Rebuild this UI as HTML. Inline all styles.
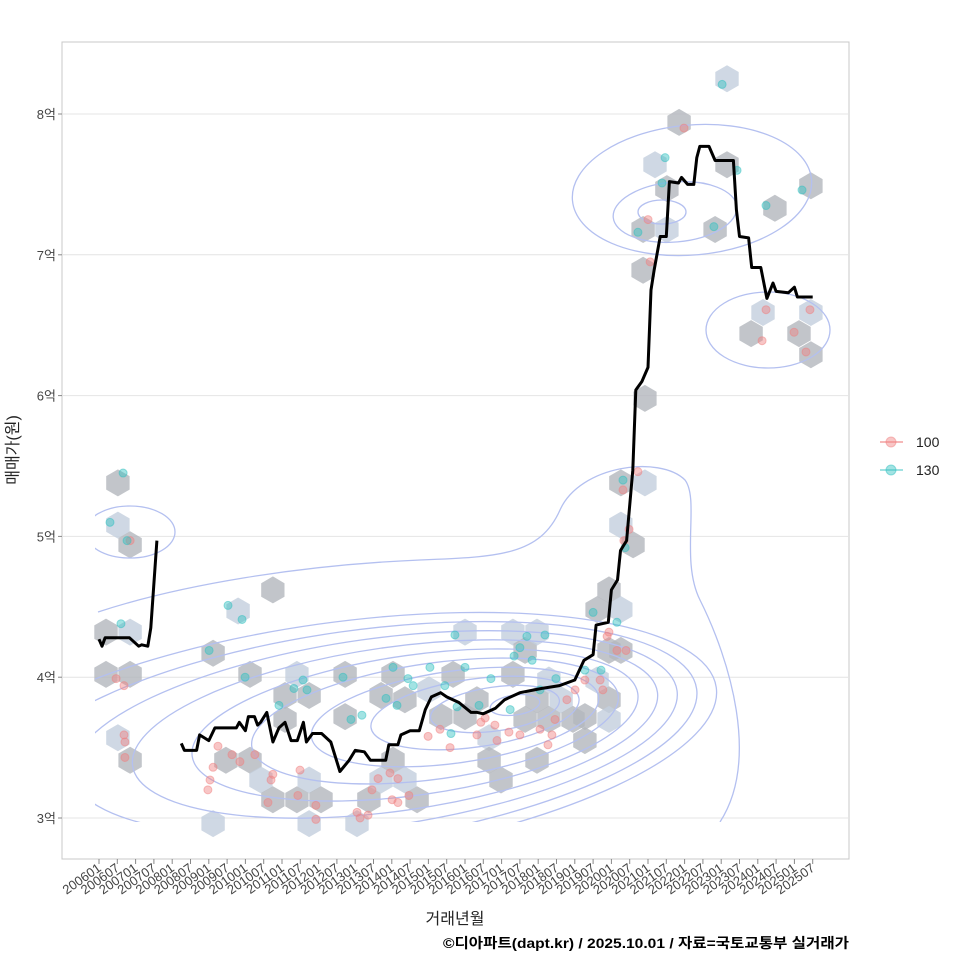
<!DOCTYPE html>
<html><head><meta charset="utf-8"><style>
body{margin:0;background:#fff;}
svg{display:block;font-family:"Liberation Sans","Noto Sans CJK KR",sans-serif;}
</style></head><body>
<svg id="chart" width="960" height="960" viewBox="0 0 960 960">
<rect x="0" y="0" width="960" height="960" fill="#fff"/>
<defs><clipPath id="clipc"><rect x="95" y="43" width="754" height="779"/></clipPath></defs>
<rect x="62" y="42" width="787" height="817" fill="none" stroke="#c8c8c8" stroke-width="1"/>
<g id="grid"></g>
<g id="hexes"></g>
<g id="contours" clip-path="url(#clipc)"></g>
<g id="points"></g>
<g id="line"></g>
<g id="yaxis"></g>
<g id="xaxis"></g>
<text x="18" y="450" transform="rotate(-90 18 450)" text-anchor="middle" font-size="16" fill="#222">매매가(원)</text>
<text x="455" y="924" text-anchor="middle" font-size="16" fill="#222">거래년월</text>
<text x="443" y="948" textLength="406" lengthAdjust="spacingAndGlyphs" font-size="14" font-weight="bold" fill="#000">©디아파트(dapt.kr) / 2025.10.01 / 자료=국토교통부 실거래가</text>
<g>
<g>
<line x1="880" y1="442" x2="903" y2="442" stroke="#f4a0a0" stroke-width="1.5"/>
<circle cx="891" cy="442" r="5" fill="#f08080" fill-opacity="0.45" stroke="#f08080" stroke-opacity="0.5"/>
<text x="916" y="447" font-size="14" fill="#222">100</text></g>
<g>
<line x1="880" y1="470" x2="903" y2="470" stroke="#80d8d8" stroke-width="1.5"/>
<circle cx="891" cy="470" r="5" fill="#30c0c0" fill-opacity="0.45" stroke="#30c0c0" stroke-opacity="0.5"/>
<text x="916" y="475" font-size="14" fill="#222">130</text></g>
</g>
</svg>
<script>
const yTicks=[3,4,5,6,7,8];
const yTickLabels=["3억","4억","5억","6억","7억","8억"];
const xTickLabels=[];
for(let y=2006;y<=2025;y++){xTickLabels.push(y+"01");xTickLabels.push(y+"07");}
const lineMonths=[0,1,2,10,13,14,16,17,19,null,27,28,32,33,36,38,41,45,46,48,49,51,52,53,55,57,59,61,63,65,67,68,70,73,76,79,82,84,87,89,94,95,98,99,102,105,107,109,112,114,118,122,124,126,130,133,138,145,151,156,159,162,163,167,168,170,171,173,175,176,178,180,181,182,184,186,187,190,191,193,195,196,197,200,202,208,209,210,213,214,217,219,221,222,226,228,229,234];
const linePrices=[4.27,4.22,4.28,4.28,4.22,4.23,4.22,4.35,4.97,null,3.53,3.48,3.48,3.59,3.55,3.64,3.64,3.64,3.68,3.62,3.72,3.72,3.66,3.68,3.75,3.54,3.64,3.68,3.55,3.55,3.68,3.54,3.60,3.60,3.54,3.33,3.41,3.48,3.47,3.41,3.41,3.52,3.52,3.59,3.62,3.62,3.77,3.86,3.89,3.86,3.82,3.75,3.75,3.74,3.78,3.84,3.89,3.92,3.94,3.98,4.12,4.16,4.37,4.39,4.62,4.69,4.9,4.97,5.47,6.04,6.1,6.2,6.75,6.89,7.13,7.13,7.52,7.51,7.55,7.5,7.5,7.69,7.77,7.77,7.67,7.67,7.32,7.13,7.12,6.91,6.91,6.69,6.8,6.74,6.73,6.77,6.7,6.7];
const hexMonths=[6.2,6.2,10.2,2.3,10.2,2.3,10.2,6.2,10.2,37.4,45.6,49.5,57,37.4,41.6,49.5,53.1,57,61,64.9,61,68.9,68.9,64.9,72.8,68.9,80.7,80.7,84.6,88.5,92.5,92.5,96.4,96.4,100.3,104.3,100.3,108.2,112.1,116.1,120,120,123.9,127.9,127.9,131.8,135.7,135.7,139.7,143.6,143.6,139.7,147.5,147.5,143.6,151.5,155.4,159.3,163.3,167.2,159.3,167.2,167.2,163.3,171.1,167.2,171.1,171.1,175.1,171.1,179,179,178.4,182.3,186.2,190.2,186.2,178.4,202,205.9,205.9,221.6,217.7,213.8,229.5,233.4,233.4,233.4];
const hexPrices=[5.38,5.08,4.94,4.32,4.32,4.02,4.02,3.57,3.41,4.17,4.47,4.02,4.62,2.96,3.41,3.41,3.27,3.13,3.87,4.02,3.70,3.87,3.27,3.13,3.13,2.96,4.02,3.72,2.96,3.13,3.87,3.27,4.02,3.41,3.27,3.13,3.84,3.91,3.72,4.02,4.32,3.72,3.84,3.57,3.41,3.27,4.32,4.02,4.19,4.32,3.84,3.70,3.98,3.70,3.41,3.84,3.70,3.72,3.98,3.84,3.55,3.70,4.62,4.48,4.48,4.19,4.19,5.08,4.94,5.38,5.38,5.98,6.89,7.64,7.47,7.94,7.18,7.18,7.18,8.25,7.64,7.33,6.59,6.44,6.44,6.59,6.29,7.49];
const pinkMonths=[5.6,8.2,8.2,8.5,8.5,10.2,36.4,37.4,35.7,39,43.6,46.2,51.1,56.4,57,55.4,65.9,65.2,71.1,71.1,84.6,85.6,88.2,89.5,91.5,95.4,98,96.1,98,101.6,107.9,111.8,115.1,126.6,125.2,123.9,130.5,129.8,134.4,138,144.6,148.5,147.2,149.5,153.4,156.1,159.3,164.3,165.2,166.6,167.2,169.8,172.8,171.8,173.8,172.1,176.7,180.7,180,191.8,218.7,217.4,227.9,231.8,233.1];
const pinkPrices=[3.99,3.94,3.59,3.54,3.43,4.97,3.27,3.36,3.20,3.51,3.45,3.40,3.45,3.27,3.31,3.11,3.34,3.16,3.09,2.99,3.04,3.0,3.02,3.20,3.28,3.32,3.28,3.13,3.11,3.16,3.58,3.63,3.50,3.71,3.68,3.59,3.55,3.66,3.61,3.59,3.63,3.59,3.52,3.70,3.84,3.91,3.98,3.98,3.91,4.29,4.32,4.19,4.19,5.33,5.05,4.97,5.46,6.95,7.25,7.90,6.61,6.39,6.45,6.31,6.61];
const cyanMonths=[3.6,7.9,9.2,7.2,42.3,46.9,36.1,47.9,59,63.9,66.9,68.2,80,82.6,86.2,94.1,96.4,97.7,101.3,103,108.5,113.4,115.4,117.4,120,116.7,124.6,128.5,134.8,136.1,138,140.3,142,144.6,146.2,149.8,159.3,164.6,162,169.8,171.8,172.5,176.7,185.6,184.6,201.6,204.3,209.2,218.7,230.5];
const cyanPrices=[5.10,5.45,4.97,4.38,4.51,4.41,4.19,4.0,3.80,3.92,3.98,3.91,4.0,3.70,3.73,3.85,4.07,3.80,3.99,3.94,4.07,3.94,3.60,3.79,4.07,4.30,3.80,3.99,3.77,4.15,4.21,4.29,4.12,3.91,4.30,3.99,4.05,4.05,4.46,4.39,5.40,4.92,7.16,7.69,7.51,7.20,8.21,7.60,7.35,7.46];

const NS="http://www.w3.org/2000/svg";
function X(m){return 99+m*3.05;}
function Y(v){return 818-(v-3)*140.8;}
function mk(tag,attrs,parent){const e=document.createElementNS(NS,tag);for(const k in attrs)e.setAttribute(k,attrs[k]);parent.appendChild(e);return e;}
const grid=document.getElementById('grid'),yax=document.getElementById('yaxis'),xax=document.getElementById('xaxis');
yTicks.forEach((t,i)=>{
  const g=mk('line',{x1:62,x2:849,y1:Y(t),y2:Y(t),stroke:'#e4e4e4','stroke-width':1},grid);
  
  
  const tk=mk('line',{x1:58,x2:62,y1:Y(t),y2:Y(t),stroke:'#888'},yax);
  
  
  const tx=mk('text',{x:56,y:Y(t)+5,'text-anchor':'end','font-size':13,fill:'#444'},yax);
  tx.textContent=yTickLabels[i];
  
  
});
xTickLabels.forEach((l,i)=>{
  const x=X(i*6);
  const tk=mk('line',{x1:x,x2:x,y1:859,y2:864,stroke:'#888'},xax);
  
  
  const tx=mk('text',{x:x+3,y:870,'text-anchor':'end','font-size':13,fill:'#444',transform:`rotate(-35 ${x+3} 870)`},xax);
  tx.textContent=l;
  
  
});
const hg=document.getElementById('hexes');
hexMonths.forEach((m,i)=>{
  const cx=X(m),cy=Y(hexPrices[i]),r=13.5;let pts=[];
  for(let k=0;k<6;k++){const a=Math.PI/180*(60*k-90);pts.push((cx+r*Math.cos(a)).toFixed(1)+','+(cy+r*Math.sin(a)).toFixed(1));}
  const p=mk('polygon',{points:pts.join(' '),fill:(i%3==1)?'#c3cedd':'#b3b7bd','fill-opacity':0.8},hg);
  
  
});
const cg=document.getElementById('contours');
function ell(cx,cy,rx,ry,rot){const e=mk('ellipse',{cx:cx,cy:cy,rx:rx,ry:ry,transform:`rotate(${rot} ${cx} ${cy})`,fill:'none',stroke:'#b4c0f0','stroke-width':1.3},cg);
  
  }
for(let k=0;k<10;k++){ell(515-20*k,705+4*k,25+40*k,10+12*k,-8);}
const op=mk('path',{d:'M98,612 C180,585 300,565 420,560 C500,557 540,555 560,510 C580,465 660,455 685,480 C700,500 680,560 700,600 C730,660 760,760 720,822',fill:'none',stroke:'#b4c0f0','stroke-width':1.3},cg);


ell(692,190,120,65,-5);ell(675,212,62,30,-5);ell(662,212,24,12,0);
ell(768,330,62,38,0);ell(130,532,45,26,0);
const pg=document.getElementById('points');
pinkMonths.forEach((m,i)=>{const c=mk('circle',{cx:X(m),cy:Y(pinkPrices[i]),r:4,fill:'#f08080','fill-opacity':0.45,stroke:'#f08080','stroke-opacity':0.5},pg);
  
  });
cyanMonths.forEach((m,i)=>{const c=mk('circle',{cx:X(m),cy:Y(cyanPrices[i]),r:4,fill:'#30c0c0','fill-opacity':0.45,stroke:'#30c0c0','stroke-opacity':0.5},pg);
  
  });
const lg=document.getElementById('line');let d='',start=true;
lineMonths.forEach((m,i)=>{if(m===null){start=true;return;}d+=(start?'M':'L')+X(m).toFixed(1)+','+Y(linePrices[i]).toFixed(1);start=false;});
const pl=mk('path',{d:d,fill:'none',stroke:'#000','stroke-width':3,'stroke-linejoin':'round'},lg);


</script>
</body></html>
